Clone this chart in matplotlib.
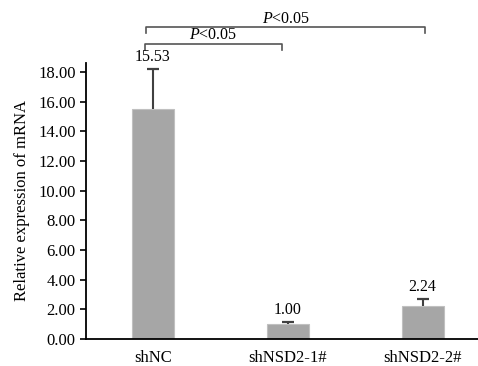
import numpy as np
import matplotlib.pyplot as plt
from matplotlib import rcParams

rcParams['font.family'] = 'Liberation Serif'
rcParams['font.size'] = 12
rcParams['mathtext.fontset'] = 'custom'
rcParams['mathtext.rm'] = 'Liberation Serif'
rcParams['mathtext.it'] = 'Liberation Serif:italic'

groups = ['shNC', 'shNSD2-1#', 'shNSD2-2#']
values = [15.53, 1.00, 2.24]
errors = [2.67, 0.15, 0.46]
labels = ['15.53', '1.00', '2.24']
yticks = [0, 2, 4, 6, 8, 10, 12, 14, 16, 18]

fig = plt.figure(figsize=(4.78, 3.66), dpi=100)
ax = fig.add_axes([0.18, 0.074, 0.819, 0.754])

x = np.arange(len(groups))
vals = np.array(values)
errs = np.array(errors)
ax.bar(x, vals, width=0.31, color='#a6a6a6', edgecolor='#c0c0c0', linewidth=0.8, zorder=2)
# upper error bars only, cap on top
ax.errorbar(x, vals, yerr=[np.zeros(len(errs)), errs], fmt='none',
            ecolor='#404040', elinewidth=1.5, capsize=0, zorder=3)
ax.plot(x, vals + errs, ls='none', marker='_', ms=8, mew=1.6, color='#404040', zorder=3)

for xi, v, e, lab in zip(x, vals, errs, labels):
    ax.annotate(lab, (xi, v + e), xytext=(0, 3), textcoords='offset points',
                ha='center', va='bottom', fontsize=11.5)

ax.set_xlim(-0.496, 2.407)
ax.set_ylim(0, 18.6)
ax.set_xticks(x)
ax.set_xticklabels(groups)
ax.set_yticks(yticks)
ax.set_yticklabels(['%.2f' % t for t in yticks])
ax.tick_params(axis='x', length=0, pad=8)
ax.tick_params(axis='y', length=4, width=1.2, direction='out')
ax.spines['top'].set_visible(False)
ax.spines['right'].set_visible(False)
ax.spines['left'].set_linewidth(1.3)
ax.spines['bottom'].set_linewidth(1.3)
ax.set_ylabel('Relative expression of mRNA', labelpad=6)

# significance brackets
def bracket(x0, x1, y, h, txt_y):
    ax.plot([x0, x0, x1, x1], [y - h, y, y, y - h], color='#555555', lw=1.2, clip_on=False)
    ax.text((x0 + x1) / 2, txt_y, r'$P$<0.05', ha='center', va='bottom', fontsize=11.5)

bracket(-0.06, 0.955, 19.9, 0.4, 19.95)
bracket(-0.05, 2.02, 21.0, 0.4, 21.05)

fig.savefig('out.png', dpi=100)
